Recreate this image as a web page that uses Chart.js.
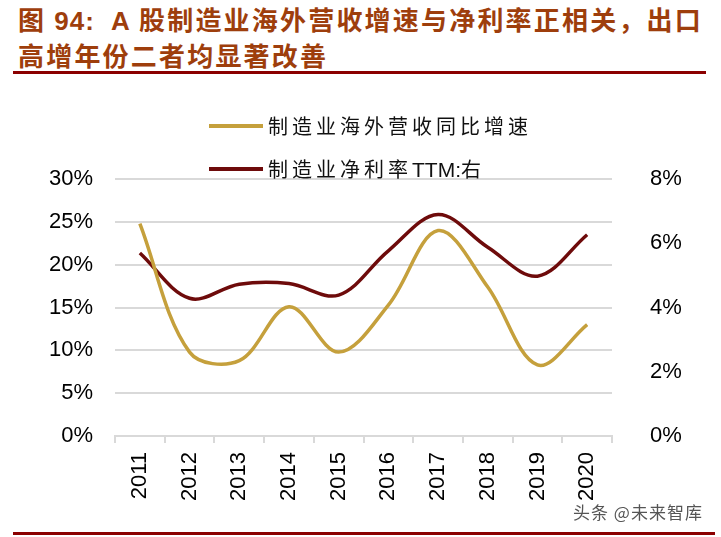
<!DOCTYPE html>
<html>
<head>
<meta charset="utf-8">
<script src="https://cdn.jsdelivr.net/npm/chart.js@4"></script>
<style>
  html, body { margin: 0; padding: 0; background: #fff; }
  body { width: 721px; height: 537px; position: relative; overflow: hidden; }
  .titulo {
    position: absolute; left: 18px; top: 2px;
    font-family: "Noto Sans CJK SC", "Liberation Sans", sans-serif;
    font-weight: bold; font-size: 26px; line-height: 34px;
    letter-spacing: 2.2px; color: #9e3e0c; white-space: nowrap;
  }
  .titulo .lat { font-family: "Liberation Sans", Arial, sans-serif; letter-spacing: 1px; }
  .raya-titulo { position: absolute; left: 13px; top: 71px; width: 693px; height: 3px; background: #8b0000; }
  .raya-pie { position: absolute; left: 13px; top: 532px; width: 702px; height: 3px; background: #8b0000; }
  .leyenda { position: absolute; left: 209px; top: 109px; z-index: 2; }
  .item { position: relative; height: 43px; }
  .item .muestra { position: absolute; left: 0; top: 15px; width: 54px; height: 4px; }
  .item .texto {
    position: absolute; left: 59px; top: 2px; white-space: nowrap;
    font-family: "Noto Sans CJK SC", sans-serif; font-size: 20px; letter-spacing: 4px; color: #111;
  }
  .item .texto .lat { font-family: "Liberation Sans", Arial, sans-serif; letter-spacing: 0; font-size: 21px; }
  .marca {
    position: absolute; left: 573px; top: 499px; z-index: 2;
    font-family: "Noto Sans CJK SC", sans-serif; font-size: 17px; letter-spacing: 1px; color: #555;
    text-shadow: 0 0 2px #fff, 0 0 2px #fff;
  }
  #contenedor { position: absolute; left: 0; top: 128px; width: 721px; height: 382px; z-index: 1; }
</style>
</head>
<body>
<div class="titulo">图 <span class="lat">94:</span>&nbsp;&nbsp;<span class="lat">A</span> 股制造业海外营收增速与净利率正相关，出口<br>高增年份二者均显著改善</div>
<div class="raya-titulo"></div>

<div class="leyenda" id="leyenda"></div>

<div id="contenedor"><canvas id="grafico"></canvas></div>

<div class="marca">头条 @未来智库</div>
<div class="raya-pie"></div>

<script>
// Datos
const anios = ['2011', '2012', '2013', '2014', '2015', '2016', '2017', '2018', '2019', '2020'];
const crecimientoExterior = [24.8, 9.8, 8.8, 15.1, 9.8, 15.3, 24.0, 17.4, 8.3, 13.0];   // eje izquierdo, %
const margenNeto = [5.70, 4.29, 4.73, 4.75, 4.39, 5.77, 6.90, 5.88, 4.98, 6.27];        // eje derecho, %
const nombreCrecimiento = '制造业海外营收同比增速';
const nombreMargen = '制造业净利率TTM:右';
const ticksIzq = [0, 5, 10, 15, 20, 25, 30];
const ticksDer = [0, 2, 4, 6, 8];

const colorOro = '#c5a03c';
const colorVino = '#6e0b0b';
const gris = '#d9d9d9';
const fuenteEjes = { family: '"Liberation Sans", Arial, sans-serif', size: 22 };

// Leyenda en html (dos filas, como el original)
const leyenda = document.getElementById('leyenda');
[[nombreCrecimiento, colorOro], [nombreMargen, colorVino]].forEach(par => {
    let item = document.createElement('div');
    item.className = 'item';
    let texto = par[0].replace('TTM:', '<span class="lat">TTM:</span>');
    item.innerHTML = '<div class="muestra" style="background:' + par[1] + '"></div><div class="texto">' + texto + '</div>';
    leyenda.appendChild(item);
});

new Chart('grafico', {
    type: 'line',
    data: {
        labels: anios,
        datasets: [{
            label: nombreCrecimiento,
            data: crecimientoExterior,
            borderColor: colorOro,
            backgroundColor: colorOro,
            borderWidth: 3.5,
            tension: 0.35,
            pointRadius: 0,
            yAxisID: 'y'
        }, {
            label: nombreMargen,
            data: margenNeto,
            borderColor: colorVino,
            backgroundColor: colorVino,
            borderWidth: 3.5,
            tension: 0.35,
            pointRadius: 0,
            yAxisID: 'y1'
        }]
    },
    options: {
        responsive: true,
        maintainAspectRatio: false,
        animation: false,
        layout: { padding: { top: 4, left: 0, right: 0, bottom: 0 } },
        plugins: { legend: { display: false }, tooltip: { enabled: false } },
        scales: {
            x: {
                offset: true,
                grid: { display: true, drawOnChartArea: false, drawTicks: true, tickLength: 7, color: gris, lineWidth: 2, offset: true },
                border: { display: true, color: gris, width: 2 },
                ticks: { color: '#000', font: fuenteEjes, minRotation: 90, maxRotation: 90, padding: 9 },
                afterFit: function(escala) { escala.height = 74; }
            },
            y: {
                position: 'left',
                min: 0, max: 30,
                afterBuildTicks: function(escala) { escala.ticks = ticksIzq.map(v => ({ value: v })); },
                grid: { color: gris, lineWidth: 2, drawTicks: false },
                border: { display: false },
                ticks: { color: '#000', font: fuenteEjes, padding: 22, callback: v => v + '%' },
                afterFit: function(escala) { escala.width = 115; }
            },
            y1: {
                position: 'right',
                min: 0, max: 8,
                afterBuildTicks: function(escala) { escala.ticks = ticksDer.map(v => ({ value: v })); },
                grid: { display: false, drawTicks: false },
                border: { display: false },
                ticks: { color: '#000', font: fuenteEjes, padding: 38, callback: v => v + '%' },
                afterFit: function(escala) { escala.width = 109; }
            }
        }
    }
});
</script>
</body>
</html>
